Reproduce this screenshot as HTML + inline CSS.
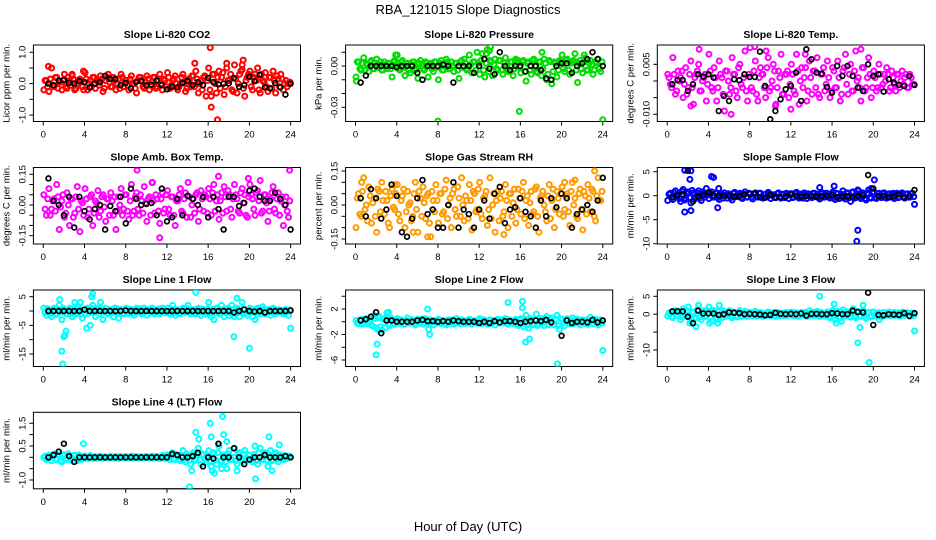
<!DOCTYPE html>
<html><head><meta charset="utf-8">
<style>
html,body{margin:0;padding:0;background:#fff;}
svg{display:block;font-family:"Liberation Sans",sans-serif;}
</style></head>
<body>
<svg id="chart" width="936" height="540" viewBox="0 0 936 540">
<text x="468" y="14" text-anchor="middle" font-size="13">RBA_121015  Slope Diagnostics</text>
<text x="468" y="531" text-anchor="middle" font-size="13">Hour of Day (UTC)</text>
</svg>
<script>
const xTicks = [0,4,8,12,16,20,24];
const co2Main = [-0.2,0.1,-0.25,0.5,-0.1,0.2,0.05,-0.2,0.3,-0.15,0.1,0.25,-0.2,0.0,0.15,-0.1,
0.35,-0.2,0.1,0.2,-0.15,0.05,0.25,-0.25,0.1,0.3,-0.1,0.2,-0.2,0.15,0.3,-0.1,
0.1,-0.2,0.25,0.0,-0.3,0.2,0.1,-0.15,0.25,-0.2,0.05,0.2,-0.1,0.3,-0.2,0.1,
0.35,-0.15,0.1,0.25,-0.2,0.0,0.3,-0.25,0.15,-0.1,0.25,0.4,-0.3,0.1,0.2,-0.4,
0.5,-0.4,0.3,-0.3,0.4,0.2,-0.35,0.5,0.1,-0.2,0.6,-0.3,0.3,0.45,-0.4,0.2,
0.4,-0.2,0.3,0.5,-0.3,0.1,0.35,-0.25,0.2,0.4,-0.3,0.15,0.3,-0.2,0.1,0.0];
const co2Main2 = [0.1,-0.1,0.15,-0.05,0.2,-0.15,0.05,0.1,-0.1,0.2,-0.05,0.15,-0.15,0.1,0.05,-0.2,
0.15,0.0,-0.1,0.2,0.1,-0.05,0.15,-0.15,0.2,0.05,-0.1,0.1,0.0,-0.15,0.2,0.1,
-0.05,0.15,0.0,-0.15,0.1,0.2,-0.1,0.05,0.15,-0.05,0.2,-0.15,0.1,0.0,0.15,-0.1,
0.2,-0.05,0.15,0.0,-0.1,0.2,0.05,-0.15,0.1,0.25,-0.1,0.15,0.0,-0.2,0.25,0.1,
-0.2,0.3,0.0,0.2,-0.15,0.35,-0.1,0.1,0.3,-0.25,0.15,0.0,0.4,-0.15,0.1,0.3,
-0.1,0.2,0.1,-0.2,0.3,0.05,-0.1,0.2,-0.15,0.1,0.25,-0.1,0.15,0.0,-0.1,0.05];
const co2OutT = [0.5,16.2,16.3,16.9,14.7,19.4,19.3,17.8,2.8,3.9];
const co2OutV = [0.55,1.15,-0.75,-1.15,0.65,0.75,0.6,0.65,0.3,0.4];
const co2Black = [0,-0.05,0.1,0.12,0.02,0,0.08,0.05,-0.12,0.0,0.05,0.25,0.15,0.15,-0.05,0.02,-0.15,0.05,0.08,-0.05,-0.03,0.1,-0.05,-0.18,-0.1,-0.12,0.02,0.08,-0.05,0.05,-0.05,0.18,0.05,-0.02,0,0.01,0.18,-0.1,-0.05,0.22,0.08,0.28,-0.12,-0.15,0.02,-0.12,-0.35,0.0];

const presMain = [-0.008,0.003,-0.003,0.006,0.002,-0.004,0.004,-0.002,0.005,0.001,-0.003,0.003,-0.002,0.002,-0.008,0.004,
0.008,-0.003,0.004,-0.007,0.002,-0.005,0.003,-0.003,-0.009,0.004,-0.002,0.003,-0.008,0.002,-0.004,0.003,
-0.01,0.004,-0.003,0.005,-0.002,0.003,-0.004,0.002,-0.009,0.004,0.005,-0.003,0.008,-0.005,0.003,0.01,
-0.006,0.009,-0.008,0.012,0.004,-0.007,0.005,-0.003,0.004,-0.006,0.006,-0.004,0.003,-0.007,0.005,0.004,
-0.005,0.004,-0.011,0.003,-0.006,0.005,-0.004,0.003,-0.007,0.005,-0.01,0.004,-0.013,0.003,-0.008,0.004,
0.008,-0.004,0.005,-0.006,0.003,0.009,-0.012,0.004,-0.005,0.006,-0.003,0.004,-0.006,0.003,0.005,-0.004];
const presMain2 = [0.003,-0.002,0.002,-0.003,0.001,0.003,-0.002,0.002,-0.001,0.003,-0.003,0.001,0.002,-0.002,0.003,0.0,
-0.002,0.003,-0.001,0.002,-0.003,0.001,0.003,-0.002,0.002,0.0,-0.003,0.002,0.001,-0.002,0.003,-0.001,
0.002,-0.003,0.001,0.003,-0.002,0.0,0.002,-0.003,0.003,-0.001,0.002,-0.002,0.001,0.003,-0.003,0.002,
0.004,-0.003,0.002,-0.004,0.003,0.001,-0.002,0.004,-0.003,0.002,0.0,-0.004,0.003,-0.002,0.004,-0.001,
0.003,-0.004,0.002,-0.003,0.004,0.0,-0.005,0.003,-0.002,0.002,-0.006,0.003,-0.004,0.002,-0.003,0.003,
-0.002,0.004,-0.003,0.002,0.004,-0.003,0.002,-0.002,0.003,-0.003,0.002,0.001,-0.003,0.002,-0.002,0.003];
const presOutT = [8.0,15.9,24.0,13.1,13.0,18.1,3.9,12.7,22.2,0.1];
const presOutV = [-0.04,-0.033,-0.039,0.014,0.011,0.01,0.008,0.009,0.008,-0.011];
const presBlack = [-0.012,-0.007,0.0,0.0,0.0,0.0,0.0,-0.001,0.0,0.0,0.0,-0.005,-0.01,0.0,0.0,0.0,0.001,0.0,-0.012,0.0,0.0,0.0,-0.005,0.0,0.005,-0.002,-0.006,0.01,0.0,-0.003,0.0,0.0,-0.004,0.0,0.0,-0.003,-0.009,-0.01,0.0,0.002,0.002,-0.005,0.0,0.002,0.005,0.01,0.005,0.0];

const tempMain = [0.002,-0.001,0.007,-0.004,0.003,0.001,-0.005,0.004,-0.002,0.006,-0.007,0.002,0.005,-0.003,0.001,-0.006,
0.008,-0.002,0.004,-0.006,0.006,0.001,-0.009,0.003,-0.004,0.007,0.002,-0.005,0.005,-0.002,0.009,-0.006,
0.01,-0.003,0.006,-0.006,0.004,0.002,-0.005,0.007,-0.002,0.005,-0.007,0.003,0.008,-0.004,0.002,-0.005,
0.005,-0.003,0.008,-0.007,0.004,0.001,-0.006,0.006,-0.004,0.003,0.007,-0.005,0.002,-0.003,0.006,-0.005,
0.004,-0.002,0.006,-0.006,0.003,0.008,-0.004,0.005,-0.003,0.009,0.001,-0.006,0.004,-0.002,0.007,-0.005,
0.003,-0.003,0.005,-0.002,0.002,0.004,-0.003,0.003,-0.001,0.002,-0.002,0.003,0.001,-0.002,0.002,-0.001];
const tempMain2 = [0.001,-0.002,0.002,-0.003,0.0,0.003,-0.001,-0.004,0.002,-0.002,0.001,0.003,-0.003,0.0,0.002,-0.001,
0.003,-0.003,0.001,-0.002,0.002,-0.004,0.003,0.0,-0.002,0.002,-0.003,0.004,-0.001,0.001,-0.003,0.002,
-0.002,0.003,-0.004,0.001,0.002,-0.002,0.004,-0.003,0.0,0.003,-0.002,0.001,-0.004,0.002,0.003,-0.001,
0.002,-0.004,0.003,0.0,-0.002,0.004,-0.003,0.001,0.003,-0.002,-0.004,0.002,0.004,-0.001,0.001,-0.003,
0.003,-0.002,0.001,-0.004,0.004,-0.001,0.002,-0.003,0.003,0.0,-0.002,0.004,-0.003,0.001,0.002,-0.002,
0.001,-0.002,0.002,-0.001,0.0,0.002,-0.002,0.001,-0.003,0.002,0.0,-0.001,0.002,-0.002,0.001,-0.001];
const tempOutT = [6.2,8.5,13.4,18.8,2.3,12.0,10.5,3.1,9.6];
const tempOutV = [-0.01,0.0103,0.008,0.0095,-0.0075,-0.0085,-0.0075,0.0095,0.009];
const tempBlack = [-0.001,0.0003,0.0003,-0.003,-0.001,0.002,0.0013,0.002,0.001,-0.009,-0.0045,-0.006,0.0005,0.0002,0.002,0.0012,0.0012,0.0088,-0.0015,-0.0115,-0.009,-0.0055,-0.0025,-0.0015,0.0025,-0.006,0.0095,0.0065,0.0025,0.0022,-0.0018,-0.0035,0.0045,0.0015,0.0045,0.0015,-0.002,-0.003,0.005,0.0015,0.002,-0.0032,0.0005,-0.0005,-0.0012,-0.0015,0.0015,-0.0012];

const ambMain = [0.05,-0.05,0.08,-0.02,0.03,0.1,-0.12,0.02,-0.06,0.06,-0.1,0.03,-0.04,0.09,-0.13,0.01,
0.08,-0.06,0.04,-0.1,0.02,0.07,-0.03,0.05,-0.08,0.03,0.06,-0.05,-0.12,0.04,0.08,-0.02,
0.05,-0.07,0.1,-0.03,0.06,-0.05,0.02,0.09,-0.08,0.04,0.11,-0.04,0.03,-0.09,0.06,-0.02,
0.07,-0.05,0.04,-0.1,0.02,0.08,-0.04,0.06,0.11,-0.06,0.03,0.05,-0.08,0.07,-0.03,0.04,
0.08,-0.05,0.1,0.02,-0.07,0.06,0.09,-0.03,0.05,-0.06,0.1,0.03,-0.04,0.08,0.05,-0.06,
0.1,0.03,-0.05,0.07,0.12,-0.03,0.05,-0.08,0.03,0.09,-0.04,0.06,0.02,-0.1,0.04,-0.06];
const ambMain2 = [-0.02,0.03,-0.05,0.02,-0.03,0.04,-0.01,0.05,-0.04,0.0,0.03,-0.06,0.04,-0.02,0.02,-0.05,
0.03,-0.02,0.05,-0.04,0.01,-0.06,0.04,-0.01,0.03,-0.05,0.02,0.04,-0.03,0.0,-0.05,0.05,
-0.03,0.02,-0.05,0.04,-0.02,0.05,-0.04,0.01,0.03,-0.05,0.02,0.05,-0.03,0.03,-0.04,0.05,
-0.02,0.04,-0.05,0.02,0.05,-0.03,0.03,-0.06,0.04,0.0,-0.04,0.06,-0.02,0.03,0.05,-0.04,
0.03,0.06,-0.03,0.05,0.02,-0.04,0.04,0.07,-0.02,0.03,0.05,-0.03,0.06,0.01,-0.05,0.04,
0.05,-0.02,0.06,0.02,-0.04,0.05,0.01,-0.03,0.06,-0.02,0.03,-0.05,0.04,0.0,-0.03,0.02];
const ambOutT = [4.6,9.1,11.3,17.0,23.9,19.9,10.6];
const ambOutV = [-0.22,0.17,-0.16,0.14,0.17,0.13,0.11];
const ambBlack = [0.13,0.02,0.0,-0.05,0.04,-0.11,0.04,-0.03,-0.07,-0.02,0.0,-0.12,-0.005,-0.03,0.04,-0.09,0.08,0.03,0.0,0.005,0.01,-0.05,0.08,-0.08,-0.06,0.03,-0.05,0.045,0.03,0.0,0.04,-0.06,0.04,-0.02,-0.12,0.04,0.04,-0.005,0.01,0.07,0.08,0.04,0.02,0.02,0.06,0.03,0.0,-0.12];

const rhMain = [-0.1,0.05,-0.05,0.12,0.0,0.08,-0.08,0.03,-0.12,0.06,0.1,-0.04,0.02,-0.1,0.07,-0.02,
0.09,-0.07,0.04,-0.1,0.06,0.01,-0.05,0.1,-0.12,0.03,0.08,-0.06,0.05,-0.14,0.02,0.09,
-0.08,0.05,-0.03,0.11,0.0,-0.1,0.07,-0.05,0.03,0.12,-0.07,0.02,0.09,-0.11,0.05,-0.02,
0.1,-0.06,0.04,-0.09,0.12,0.0,-0.12,0.06,0.03,-0.05,0.09,-0.1,0.05,0.01,-0.08,0.07,
-0.04,0.1,0.02,-0.09,0.06,-0.03,0.08,-0.12,0.04,0.0,-0.07,0.09,0.02,-0.1,0.06,-0.04,
0.08,-0.02,0.05,-0.09,0.1,0.03,-0.06,0.07,-0.11,0.04,0.09,-0.03,0.06,-0.07,0.12,0.02];
const rhMain2 = [0.03,-0.04,0.06,-0.02,-0.07,0.04,0.01,-0.05,0.07,-0.03,0.02,0.06,-0.08,0.04,-0.01,0.05,
-0.04,0.02,0.07,-0.03,0.0,-0.07,0.05,-0.02,0.06,-0.05,0.01,0.04,-0.08,0.06,-0.03,0.02,
0.05,-0.04,0.07,-0.06,0.03,0.05,-0.02,0.08,-0.05,0.0,0.04,-0.06,0.02,0.06,-0.03,0.07,
-0.04,0.03,0.06,-0.02,-0.06,0.05,0.02,-0.07,0.06,-0.03,0.02,0.05,-0.05,0.07,-0.02,0.03,
0.06,-0.06,0.04,0.01,-0.04,0.07,-0.05,0.03,0.06,-0.03,0.04,-0.06,0.07,-0.02,0.03,0.05,
-0.05,0.04,-0.03,0.06,0.0,-0.05,0.05,-0.02,0.06,-0.04,0.03,0.07,-0.05,0.04,0.02,0.06];
const rhOutT = [0.6,5.6,7.0,20.3,21.3,23.2,14.4,3.8];
const rhOutV = [0.1,-0.12,-0.14,0.1,0.11,0.15,-0.13,0.09];
const rhBlack = [0.03,-0.05,0.07,0.03,-0.06,-0.02,0.09,0.04,-0.12,-0.14,-0.06,0.03,0.11,-0.04,-0.02,-0.1,-0.1,0.0,0.1,-0.1,-0.02,-0.04,-0.1,-0.02,0.02,-0.06,0.05,0.08,-0.08,-0.02,-0.01,0.03,-0.03,-0.05,-0.1,0.02,-0.05,0.03,-0.01,0.05,0.03,-0.1,-0.04,-0.02,0.0,-0.03,0.02,0.12];

const sfMain = [-1,0.5,-0.8,1,0.3,-1.2,1.3,-0.5,0.8,-1.5,0.6,-0.3,1,-1,0.4,1.5,
-0.6,0.8,-0.3,0.5,-0.8,0.3,0.6,-0.5,0.2,-0.9,0.7,-0.2,0.5,-0.6,0.8,-0.3,
0.4,-0.7,0.6,-0.3,0.5,-0.5,0.3,0.7,-0.6,0.2,-0.4,0.6,-0.5,0.3,0.5,-0.6,
0.4,-0.3,0.7,-0.5,0.3,0.6,-0.6,0.2,-0.4,0.5,0.3,-0.7,0.6,-0.3,0.4,-0.5,
0.7,-0.8,0.4,-0.5,1,-0.7,0.5,-1.2,0.8,-0.4,1,-0.6,0.5,-0.9,1.2,-0.5,
0.8,-0.6,0.5,-0.4,0.6,-0.5,0.4,0.3,-0.6,0.5,-0.3,0.6,-0.5,0.4,-0.3,0.5];
const sfMain2 = [0.3,-0.4,0.6,-0.2,-0.6,0.9,-0.9,0.4,-0.4,1.1,-0.7,0.5,-0.5,0.8,-0.3,0.2,
0.4,-0.3,0.6,-0.4,0.2,-0.5,0.1,0.4,-0.4,0.5,-0.1,0.3,-0.4,0.2,-0.3,0.5,
-0.3,0.3,-0.2,0.5,-0.4,0.2,-0.3,0.4,0.1,-0.4,0.4,-0.2,0.3,-0.4,0.2,0.4,
-0.4,0.5,-0.2,0.3,-0.5,0.2,0.4,-0.3,0.5,-0.2,-0.4,0.4,-0.3,0.5,-0.2,0.3,
-0.4,0.5,-0.6,0.3,-0.3,0.6,-0.4,0.7,-0.5,0.4,-0.3,0.6,-0.6,0.5,-0.4,0.7,
-0.3,0.4,-0.2,0.5,-0.4,0.3,-0.3,0.5,0.2,-0.4,0.4,-0.2,0.3,-0.3,0.4,-0.2];
const sfOutT = [1.7,2.2,2.3,1.7,2.3,4.3,4.5,5.0,4.9,14.8,16.2,18.5,18.4,19.8,20.1,24.0,18.5];
const sfOutV = [5.3,3.4,-3.1,-3.4,5.2,4,3.8,1.5,-2.5,1.7,2,-7.2,-9.5,1.5,3.3,-1.8,1.2];
const sfBlack = [-0.3,0.1,0.3,5.2,-1.2,-0.2,0.1,0.7,0.1,0,0,0,-0.2,-0.1,0.3,0.4,0.5,-0.3,-0.4,0.2,-0.3,-0.3,-0.2,0.3,0,-0.2,-0.1,0,-0.2,-0.1,0,0.1,-0.3,-0.2,-0.1,-0.3,-0.1,0.1,4.3,1.5,-0.1,0,-0.3,-0.2,0.3,-0.4,0,1.2];

const l1Main = [1,-1.5,0.5,-2,1,-1,2,-3,0.5,-1,1,-2,3,-1,0.5,-2.5,
-1,1,-5,2,-2,1,3,-3,1,-1,0.5,-2,1,-2.5,0.5,-1,
1,-1,0.5,-1.5,1,-0.5,-1,1,-1.5,0.5,1,-1,0.5,-1,1,-0.5,
1,-1,2,-1.5,0.5,-1,1,-0.5,2,-1,0.5,-1,1,-1.5,0.5,-1,
3,-2,-3,1,-1,2,-2,0.5,-1.5,2,-2,1,-2,3,-1,-1.5,
1,-2,-3,1,-1,1.5,-1,0.5,-1.5,1,-1,0.5,0,-1,0.5,-1.5];
const l1Main2 = [-0.5,0.8,-1,0.5,-1.2,0.6,-0.4,1,-0.8,0.4,-1,0.8,-0.5,1.2,-1,0.3,
0.6,-0.8,1,-0.5,0.4,-1,0.7,-0.3,-0.8,0.5,-0.6,1,-0.4,0.6,-0.8,0.4,
-0.5,0.6,-0.8,0.4,-0.3,0.8,-0.6,0.3,0.5,-0.7,0.4,-0.4,0.7,-0.5,0.3,-0.6,
-0.4,0.7,-0.6,0.4,-0.8,0.5,-0.3,0.8,-0.5,0.4,-0.7,0.6,-0.4,0.5,-0.6,0.7,
-0.8,0.6,-0.5,1,-0.8,0.4,-0.6,1,-0.7,0.5,-1,0.6,-0.5,0.8,-0.6,0.4,
-0.6,0.5,-0.7,0.8,-0.4,0.6,-0.8,0.5,-0.4,0.6,-0.5,0.4,-0.6,0.5,-0.3,0.4];
const l1OutT = [1.6,1.8,1.9,2.0,2.1,2.2,4.7,4.8,14.8,18.5,18.8,20.0,24.0,4.2,3.6];
const l1OutV = [4,-14,-18.5,-9,-8.5,-7,5,6,6.5,-9,4.5,-13,-6,-6,3];
const l1Black = [0,0,0,0,0,0,0,0.5,0,0,0,0,0,0,0,0.2,0,0,0,0,0,0,0,0,0,0,0,0,0,0,0,0,0,0,0,0,-0.5,0,0.5,0,-0.2,0,-0.5,0,0,0,0,0.2];

const l2Main = [0.2,-0.3,0.4,-0.2,0.5,0,-0.5,1,-1,0.8,-1.3,0.5,1.4,-0.6,0.3,-0.4,
0.5,-0.3,0.2,-0.4,0.6,-0.2,0.3,-0.5,0.4,0.1,-0.4,0.5,-0.2,0.3,-0.5,0.2,
0.4,-0.3,0.2,-0.5,0.3,0.1,-0.4,0.5,-0.2,0.3,-0.3,0.2,0.4,-0.4,0.2,-0.2,
0.5,-0.3,0.2,-0.4,0.3,0,-0.5,0.4,-0.2,0.3,0.5,-0.4,0.2,-0.3,0.4,-0.6,
0.5,-0.8,1,-1,0.4,-0.5,1.2,-0.3,0.5,-0.6,0.8,-0.4,0.6,-0.5,1,-1.2,
0.4,-0.6,0.5,-0.3,0.6,-0.2,0.4,-0.5,0.3,0.2,-0.4,0.7,-0.3,0.4,-0.5,0.3];
const l2Main2 = [-0.2,0.3,-0.4,0.1,-0.3,0.4,-0.7,0.5,0.6,-0.8,0.4,-0.9,-0.4,0.6,-0.3,0.2,
-0.2,0.3,-0.4,0.2,-0.1,0.3,-0.3,0.1,-0.2,0.4,-0.1,0.2,-0.3,0.1,0.2,-0.2,
-0.1,0.2,-0.3,0.2,-0.2,0.3,-0.1,0.1,-0.3,0.2,0.1,-0.2,0.3,-0.1,-0.2,0.2,
-0.2,0.3,-0.1,0.2,-0.3,0.2,0.1,-0.2,0.3,-0.2,-0.1,0.3,-0.2,0.2,-0.3,0.3,
-0.3,0.4,-0.5,0.5,-0.3,0.3,-0.6,0.5,-0.2,0.4,-0.5,0.3,-0.4,0.4,-0.6,0.5,
-0.2,0.3,-0.3,0.2,-0.3,0.4,-0.2,0.2,-0.3,0.3,-0.2,0.2,0.3,-0.2,0.2,-0.2];
const l2OutT = [2.0,2.1,3.2,7.0,7.1,7.2,14.8,16.2,16.2,16.5,16.9,19.6,24.0,2.2];
const l2OutV = [-5.2,-3.5,1.5,2,-1.2,-2,3,3.2,2.2,-3.2,-2.7,-6.6,-4.5,-1.3];
const l2Black = [0.2,0.4,0.8,1.5,-1.8,0.2,0.2,0,0,0,0,0.2,0.3,0.1,0.1,0,0.1,0,0.2,0.1,0,0,0,-0.2,0,-0.2,0.1,-0.1,0.1,0.1,0,-0.2,0,0.1,0.2,0.1,0.3,-0.1,5.4,-2.2,0.2,-0.2,0,0,-0.1,0.3,-0.1,0.2];

const l3Main = [-0.5,0.5,-1,1,0,-1.5,1.5,-0.5,2,-2,0.5,-1,2.5,-1.5,1,-0.5,
2,-2,1,-1.5,2.5,-1,0.5,-0.5,1,-1,0.5,-0.8,1,-0.5,0.8,-0.6,
0.5,-0.5,0.8,-0.4,0.5,-0.6,0.3,0.6,-0.5,0.4,-0.6,0.5,0.2,-0.4,0.5,-0.3,
0.6,-0.5,0.4,-0.6,0.5,0.2,-0.6,1,-0.4,0.5,0.8,-0.6,0.4,-0.5,0.6,-1,
1,-1.5,0.8,-1,1.2,-0.5,0.6,-0.8,1.5,-1,0.8,-0.6,1,-1.2,0.5,-0.8,
0.6,-0.5,0.4,-0.8,0.5,-0.3,0.6,-0.4,0.5,0.2,-0.5,0.6,-0.3,0.4,-0.6,0.3];
const l3Main2 = [0.3,-0.6,0.5,-0.3,0.8,-0.8,0.4,1,-1,0.6,-1.2,1.2,-0.8,0.5,-0.6,1,
-0.8,0.6,-1,0.8,-0.4,1,-0.6,0.4,-0.5,0.6,-0.4,0.5,-0.6,0.3,-0.4,0.5,
-0.3,0.4,-0.5,0.3,-0.4,0.2,-0.3,0.4,0.2,-0.3,0.3,-0.4,0.3,0.2,-0.3,0.4,
-0.3,0.4,-0.5,0.3,-0.2,0.5,-0.3,0.4,0.3,-0.4,-0.3,0.5,-0.4,0.3,-0.5,0.4,
-0.5,0.6,-0.7,0.5,-0.4,0.7,-0.6,0.5,-0.5,0.6,-0.4,0.7,-0.6,0.4,-0.5,0.6,
-0.4,0.3,-0.5,0.4,-0.3,0.5,-0.4,0.3,-0.3,0.4,-0.4,0.3,0.4,-0.3,0.3,-0.4];
const l3OutT = [2.2,2.8,4.1,4.9,14.8,16.2,16.4,18.5,18.7,19.0,19.6,20.6,24.0,16.9];
const l3OutV = [-2.5,-3.5,-2.5,-2.5,5,2.8,-2.5,-8,-3.7,2.5,-13.5,-1.5,-4.7,-2];
const l3Black = [0.8,0.8,0.8,-0.7,-2.5,1,0.2,0.2,0.2,-0.2,0,0.5,0.4,0.3,0,0.1,0,-0.1,-0.3,-0.2,0.4,0.1,0,0.1,0,0.2,-0.4,0.1,0.1,0,0,0.3,0.2,0,0,1,0.6,0.5,6,-3,-0.2,-0.3,0,-0.1,-0.2,0.3,-0.5,0.3];

const l4Main = [0,-0.1,0.1,-0.15,0.15,-0.1,0.05,-0.2,0.1,-0.1,0.05,-0.05,0.1,-0.15,0.05,-0.05,
0.05,-0.05,0.08,-0.05,0.03,-0.03,0.05,-0.05,0.02,-0.02,0.05,-0.03,0.03,-0.05,0.02,-0.02,
0.03,-0.03,0.05,-0.02,0.03,-0.03,0.02,-0.02,0.03,-0.03,0.05,-0.02,0.03,-0.05,0.08,-0.05,
0.1,-0.1,0.2,-0.1,0.05,-0.15,0.3,-0.2,0.1,-0.3,0.2,-0.1,0.4,-0.3,0.1,-0.2,
0.3,-0.4,0.2,-0.3,0.5,-0.2,0.1,-0.5,0.3,-0.1,0.4,-0.3,0.2,-0.2,0.3,-0.1,
0.1,-0.2,0.5,-0.3,0.4,-0.1,0.2,-0.4,0.3,-0.1,0.2,-0.2,0.1,-0.1,0.05,0];
const l4Main2 = [0.05,-0.05,0.0,0.08,-0.08,0.12,-0.15,0.1,-0.05,0.15,-0.12,0.08,-0.08,0.1,-0.1,0.05,
-0.03,0.03,-0.02,0.02,-0.04,0.04,-0.02,0.02,-0.03,0.03,-0.02,0.02,-0.03,0.03,-0.02,0.03,
-0.02,0.02,-0.03,0.03,-0.02,0.02,-0.03,0.03,-0.02,0.02,-0.03,0.04,-0.04,0.03,-0.03,0.05,
-0.05,0.08,-0.05,0.1,-0.1,0.08,-0.1,0.15,-0.12,0.1,-0.15,0.12,-0.1,0.15,-0.1,0.1,
-0.15,0.15,-0.1,0.2,-0.15,0.1,-0.2,0.15,-0.1,0.2,-0.15,0.12,-0.1,0.15,-0.12,0.1,
-0.1,0.12,-0.15,0.2,-0.1,0.15,-0.12,0.1,-0.15,0.12,-0.08,0.1,-0.05,0.08,-0.05,0.05];
const l4OutT = [14.2,14.4,14.8,15.1,16.2,16.3,16.4,17.4,17.5,17.3,20.6,21.9,22.2,22.9,3.9,18.8,16.6,17.8];
const l4OutV = [-1.3,-0.6,1.1,0.8,1.5,0.9,-0.6,1.8,1.0,-0.5,-0.95,0.9,-0.6,0.55,0.6,-0.6,-0.7,0.7];
const l4Black = [0,0.1,0.25,0.6,0.05,-0.2,0,0,0,0,0,0,0,0,0,0,0,0,0,0,0,0,0,0,0.15,0.1,0,0,0.05,0.2,-0.4,0,-0.05,0.6,0,0,0.4,0,-0.3,-0.1,0,0,0.1,0,0,0,0.05,0];

const co2Ticks = [-1,-0.5,0,0.5,1];          const co2Labels = ["-1.0","","0.0","","1.0"];
const presTicks = [-0.03,-0.02,-0.01,0,0.01]; const presLabels = ["-0.03","","","0.00",""];
const tempTicks = [-0.01,-0.005,0,0.005];     const tempLabels = ["-0.010","","","0.005"];
const ambTicks = [-0.15,-0.1,-0.05,0,0.05,0.1,0.15]; const ambLabels = ["-0.15","","","0.00","","","0.15"];
const rhTicks = [-0.15,-0.1,-0.05,0,0.05,0.1,0.15];  const rhLabels = ["-0.15","","","0.00","","","0.15"];
const sfTicks = [-10,-5,0,5];                 const sfLabels = ["-10","-5","0","5"];
const l1Ticks = [-15,-10,-5,0,5];             const l1Labels = ["-15","","-5","","5"];
const l2Ticks = [-6,-4,-2,0,2,4];             const l2Labels = ["-6","","-2","","2",""];
const l3Ticks = [-10,-5,0,5];                 const l3Labels = ["-10","","0","5"];
const l4Ticks = [-1,-0.5,0,0.5,1,1.5];        const l4Labels = ["-1.0","","","0.5","","1.5"];

const NS = "http://www.w3.org/2000/svg";
const svg = document.getElementById("chart");
function mk(tag, attrs, parent){ const e=document.createElementNS(NS,tag); for(const k in attrs) e.setAttribute(k,attrs[k]); (parent||svg).appendChild(e); return e; }

const colX0 = [43.3, 355.5, 667.2];
const rowTop = [45, 167.5, 290, 412.3];
const boxH = 76.5;
const xs = 247.3/24;

const panels = [
 {c:0,r:0,key:"co2",title:"Slope Li-820 CO2",yl:"Licor ppm per min.",col:"#ff0000",va:1,pa:52.3,vb:-1,pb:115,m:co2Main,m2:co2Main2,ot:co2OutT,ov:co2OutV,b:co2Black,tk:co2Ticks,tl:co2Labels},
 {c:1,r:0,key:"pressure",title:"Slope Li-820 Pressure",yl:"kPa per min.",col:"#00dd00",va:0,pa:66,vb:-0.03,pb:107.3,m:presMain,m2:presMain2,ot:presOutT,ov:presOutV,b:presBlack,tk:presTicks,tl:presLabels},
 {c:2,r:0,key:"temp",title:"Slope Li-820 Temp.",yl:"degrees C per min.",col:"#ff00ff",va:0.005,pa:64.3,vb:-0.01,pb:114.3,m:tempMain,m2:tempMain2,ot:tempOutT,ov:tempOutV,b:tempBlack,tk:tempTicks,tl:tempLabels},
 {c:0,r:1,key:"amb-temp",title:"Slope Amb. Box Temp.",yl:"degrees C per min.",col:"#ff00ff",va:0.15,pa:174.3,vb:-0.15,pb:235.7,m:ambMain,m2:ambMain2,ot:ambOutT,ov:ambOutV,b:ambBlack,tk:ambTicks,tl:ambLabels},
 {c:1,r:1,key:"rh",title:"Slope Gas Stream RH",yl:"percent per min.",col:"#ff9a00",va:0.15,pa:171,vb:-0.15,pb:239,m:rhMain,m2:rhMain2,ot:rhOutT,ov:rhOutV,b:rhBlack,tk:rhTicks,tl:rhLabels},
 {c:2,r:1,key:"sample-flow",title:"Slope Sample Flow",yl:"ml/min per min.",col:"#0000ff",va:5,pa:171.7,vb:-10,pb:243.7,m:sfMain,m2:sfMain2,ot:sfOutT,ov:sfOutV,b:sfBlack,tk:sfTicks,tl:sfLabels},
 {c:0,r:2,key:"line1-flow",title:"Slope Line 1 Flow",yl:"ml/min per min.",col:"#00ffff",va:5,pa:296.7,vb:-15,pb:354,m:l1Main,m2:l1Main2,ot:l1OutT,ov:l1OutV,b:l1Black,tk:l1Ticks,tl:l1Labels},
 {c:1,r:2,key:"line2-flow",title:"Slope Line 2 Flow",yl:"ml/min per min.",col:"#00ffff",va:2,pa:309,vb:-6,pb:360,m:l2Main,m2:l2Main2,ot:l2OutT,ov:l2OutV,b:l2Black,tk:l2Ticks,tl:l2Labels},
 {c:2,r:2,key:"line3-flow",title:"Slope Line 3 Flow",yl:"ml/min per min.",col:"#00ffff",va:5,pa:296.3,vb:-10,pb:350,m:l3Main,m2:l3Main2,ot:l3OutT,ov:l3OutV,b:l3Black,tk:l3Ticks,tl:l3Labels},
 {c:0,r:3,key:"line4-flow",title:"Slope Line 4 (LT) Flow",yl:"ml/min per min.",col:"#00ffff",va:1.5,pa:423.3,vb:-1,pb:480,m:l4Main,m2:l4Main2,ot:l4OutT,ov:l4OutV,b:l4Black,tk:l4Ticks,tl:l4Labels}
];

panels.forEach(p=>{
  const x0 = colX0[p.c];
  const top = rowTop[p.r];
  const X = h => x0 + h*xs;
  const Y = v => p.pa + (v - p.va)*(p.pb - p.pa)/(p.vb - p.va);
  const g = mk("g",{});
  
  
  const bl = x0 - 9.9, br = x0 + 247.3 + 9.9, bb = top + boxH;
  const clip = mk("clipPath",{id:"clip-"+p.key}, g);
  mk("rect",{x:bl,y:top,width:br-bl,height:boxH},clip);
  const t = mk("text",{x:(bl+br)/2,y:top-7,"text-anchor":"middle","font-size":"10.5","font-weight":"bold"},g);
  t.textContent = p.title;
  
  
  const box = mk("rect",{x:bl,y:top,width:br-bl,height:boxH,fill:"none",stroke:"#000","stroke-width":"1"},g);
  
  
  xTicks.forEach(h=>{
    mk("line",{x1:X(h),x2:X(h),y1:bb,y2:bb+4,stroke:"#000"},g);
    const tl = mk("text",{x:X(h),y:bb+16,"text-anchor":"middle","font-size":"9.5"},g);
    tl.textContent = h;
    
    
  });
  mk("line",{x1:X(0),x2:X(24),y1:bb,y2:bb,stroke:"#000"},g);
  p.tk.forEach((v,i)=>{
    mk("line",{x1:bl-4,x2:bl,y1:Y(v),y2:Y(v),stroke:"#000"},g);
    if(p.tl[i]){
      const yl = mk("text",{x:bl-8,y:Y(v),"text-anchor":"middle","font-size":"9.5",transform:`rotate(-90 ${bl-8} ${Y(v)})`},g);
      yl.textContent = p.tl[i];
      
      
    }
  });
  const ya = mk("text",{x:bl-24,y:(top+bb)/2,"text-anchor":"middle","font-size":"9.5",transform:`rotate(-90 ${bl-24} ${(top+bb)/2})`},g);
  ya.textContent = p.yl;
  
  
  const pg = mk("g",{"clip-path":`url(#clip-${p.key})`},g);
  p.m.forEach((v,i)=>{
    const c = mk("circle",{cx:X(i*0.25+0.05),cy:Y(v),r:2.5,fill:"none",stroke:p.col,"stroke-width":"2"},pg);
    
    
  });
  p.m2.forEach((v,i)=>{
    const c = mk("circle",{cx:X(i*0.25+0.175),cy:Y(v),r:2.5,fill:"none",stroke:p.col,"stroke-width":"2"},pg);
    
    
  });
  p.ot.forEach((h,i)=>{
    const c = mk("circle",{cx:X(h),cy:Y(p.ov[i]),r:2.5,fill:"none",stroke:p.col,"stroke-width":"2"},pg);
    
    
  });
  p.b.forEach((v,i)=>{
    const c = mk("circle",{cx:X((i+1)*0.5),cy:Y(v),r:2.4,fill:"none",stroke:"#000","stroke-width":"1.7"},pg);
    
    
  });
});
</script>
</body></html>
